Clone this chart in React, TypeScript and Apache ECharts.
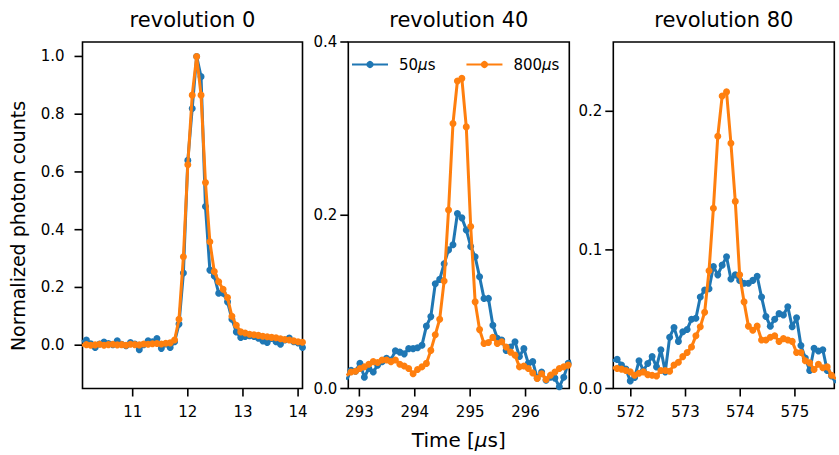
import React, { useEffect, useRef } from "react";
import * as echarts from "echarts";

const FONT = "DejaVu Sans";
const BLUE = "#1f77b4";
const ORANGE = "#ff7f0e";

const TITLES = ["revolution 0", "revolution 40", "revolution 80"];
const SERIES_NAMES = ["50µs", "800µs"];

const T1 = [10.08, 10.16, 10.24, 10.32, 10.4, 10.48, 10.56, 10.64, 10.72, 10.8, 10.88, 10.96, 11.04, 11.12, 11.2, 11.28, 11.36, 11.44, 11.52, 11.6, 11.68, 11.76, 11.84, 11.92, 12.0, 12.08, 12.16, 12.24, 12.32, 12.4, 12.48, 12.56, 12.64, 12.72, 12.8, 12.88, 12.96, 13.04, 13.12, 13.2, 13.28, 13.36, 13.44, 13.52, 13.6, 13.68, 13.76, 13.84, 13.92, 14.0, 14.08];
const B1 = [0.012, 0.018, 0.005, -0.008, 0.004, 0.011, 0.006, 0.002, 0.015, 0.003, -0.002, 0.009, 0.004, -0.016, 0.002, 0.015, 0.012, 0.023, -0.011, 0.004, -0.008, 0.012, 0.073, 0.25, 0.64, 0.82, 1.0, 0.93, 0.48, 0.26, 0.24, 0.18, 0.18, 0.15, 0.09, 0.046, 0.027, 0.03, 0.033, 0.03, 0.024, 0.015, 0.009, 0.023, 0.012, 0.003, 0.018, 0.025, 0.012, 0.008, -0.008];
const O1 = [0.0, 0.002, 0.0, 0.001, 0.003, 0.0, 0.002, 0.003, 0.001, 0.002, 0.0, 0.003, 0.002, 0.001, 0.004, 0.003, 0.005, 0.006, 0.004, 0.007, 0.008, 0.018, 0.09, 0.306, 0.625, 0.866, 1.0, 0.866, 0.563, 0.358, 0.255, 0.22, 0.194, 0.165, 0.1, 0.069, 0.046, 0.042, 0.038, 0.036, 0.034, 0.031, 0.029, 0.027, 0.026, 0.022, 0.02, 0.018, 0.015, 0.012, 0.01];

const T2 = [292.77, 292.85, 292.93, 293.01, 293.09, 293.17, 293.25, 293.33, 293.41, 293.49, 293.57, 293.65, 293.73, 293.81, 293.89, 293.97, 294.05, 294.13, 294.21, 294.29, 294.37, 294.45, 294.53, 294.61, 294.69, 294.77, 294.85, 294.93, 295.01, 295.09, 295.17, 295.25, 295.33, 295.41, 295.49, 295.57, 295.65, 295.73, 295.81, 295.89, 295.97, 296.05, 296.13, 296.21, 296.29, 296.37, 296.45, 296.53, 296.61, 296.69, 296.77, 296.85];
const B2 = [0.01, 0.021, 0.02, 0.029, 0.013, 0.023, 0.019, 0.027, 0.031, 0.035, 0.033, 0.0435, 0.042, 0.04, 0.046, 0.046, 0.047, 0.05, 0.072, 0.083, 0.121, 0.126, 0.144, 0.16, 0.166, 0.202, 0.197, 0.183, 0.164, 0.152, 0.129, 0.104, 0.104, 0.073, 0.058, 0.056, 0.044, 0.048, 0.054, 0.037, 0.046, 0.029, 0.031, 0.012, 0.019, 0.0096, 0.013, 0.012, 0.002, 0.013, 0.029, 0.033];
const O2 = [0.015, 0.019, 0.02, 0.023, 0.025, 0.028, 0.031, 0.03, 0.033, 0.033, 0.031, 0.033, 0.028, 0.026, 0.023, 0.017, 0.022, 0.025, 0.029, 0.044, 0.062, 0.08, 0.124, 0.206, 0.306, 0.355, 0.358, 0.302, 0.187, 0.1, 0.068, 0.052, 0.053, 0.059, 0.052, 0.054, 0.048, 0.042, 0.0385, 0.025, 0.026, 0.023, 0.018, 0.0115, 0.017, 0.0104, 0.0154, 0.019, 0.023, 0.025, 0.027, 0.028];

const T3 = [571.67, 571.75, 571.83, 571.91, 571.99, 572.07, 572.15, 572.23, 572.31, 572.39, 572.47, 572.55, 572.63, 572.71, 572.79, 572.87, 572.95, 573.03, 573.11, 573.19, 573.27, 573.35, 573.43, 573.51, 573.59, 573.67, 573.75, 573.83, 573.91, 573.99, 574.07, 574.15, 574.23, 574.31, 574.39, 574.47, 574.55, 574.63, 574.71, 574.79, 574.87, 574.95, 575.03, 575.11, 575.19, 575.27, 575.35, 575.43, 575.51, 575.59, 575.67, 575.75];
const B3 = [0.02, 0.021, 0.017, 0.014, 0.0055, 0.008, 0.02, 0.013, 0.018, 0.023, 0.0156, 0.028, 0.012, 0.037, 0.044, 0.034, 0.041, 0.0426, 0.05, 0.0507, 0.066, 0.071, 0.072, 0.088, 0.082, 0.089, 0.095, 0.079, 0.082, 0.078, 0.076, 0.076, 0.078, 0.081, 0.066, 0.052, 0.045, 0.05, 0.054, 0.053, 0.059, 0.0445, 0.051, 0.031, 0.022, 0.013, 0.029, 0.027, 0.028, 0.013, 0.009, 0.004];
const O3 = [0.015, 0.0145, 0.014, 0.013, 0.012, 0.0095, 0.011, 0.012, 0.01, 0.0095, 0.009, 0.013, 0.013, 0.0125, 0.017, 0.019, 0.023, 0.026, 0.03, 0.038, 0.0445, 0.055, 0.085, 0.13, 0.182, 0.211, 0.214, 0.177, 0.135, 0.082, 0.0625, 0.045, 0.042, 0.045, 0.035, 0.035, 0.037, 0.038, 0.034, 0.036, 0.035, 0.034, 0.026, 0.026, 0.02, 0.0185, 0.0137, 0.0175, 0.015, 0.0156, 0.0096, 0.007];

const X_TICKS = [[11, 12, 13, 14], [293, 294, 295, 296], [572, 573, 574, 575]];
const Y_TICKS = [[0, 0.2, 0.4, 0.6, 0.8, 1.0], [0, 0.2, 0.4], [0, 0.1, 0.2]];
const X_RANGE = [[10.09, 14.08], [292.8, 296.79], [571.68, 575.72]];
const Y_RANGE = [[-0.15, 1.05], [0, 0.4], [0, 0.25]];

const PANELS = [
  { t: T1, b: B1, o: O1 },
  { t: T2, b: B2, o: O2 },
  { t: T3, b: B3, o: O3 },
];

const GRID_LEFT = [82.5, 348.3, 613.3];
const GRID_W = [220, 221, 221];
const GRID_TOP = 42;
const GRID_H = 346.5;
const Y_LABEL_MARGIN = [18, 11, 11];
const TICK_LEN = 8;
const TICK_W = 1.6;

export default function App() {
  const ref = useRef<HTMLDivElement>(null);
  useEffect(() => {
    document.body.style.margin = "0";
    if (!ref.current) return;
    const chart = echarts.init(ref.current, null, { renderer: "svg" });
    const textBase = { fontFamily: FONT, color: "#000" };
    const grids = GRID_LEFT.map((l, i) => ({
      left: l,
      top: GRID_TOP,
      width: GRID_W[i],
      height: GRID_H,
      show: true,
      borderColor: "#000",
      borderWidth: 1.6,
      backgroundColor: "transparent",
    }));
    const xAxes = X_RANGE.map((r, i) => ({
      type: "value",
      gridIndex: i,
      position: "bottom",
      min: r[0],
      max: r[1],
      axisLine: { show: false, onZero: false },
      splitLine: { show: false },
      axisTick: { show: false },
      axisLabel: { customValues: X_TICKS[i], margin: 16, fontSize: 15, ...textBase },
    }));
    const yAxes = Y_RANGE.map((r, i) => ({
      type: "value",
      gridIndex: i,
      position: "left",
      min: r[0],
      max: r[1],
      axisLine: { show: false, onZero: false },
      splitLine: { show: false },
      axisTick: { show: false },
      axisLabel: {
        customValues: Y_TICKS[i],
        margin: Y_LABEL_MARGIN[i],
        fontSize: 15,
        ...textBase,
        formatter: (v: number) => v.toFixed(1),
      },
    }));
    const series: any[] = [];
    PANELS.forEach((p, i) => {
      [
        { name: SERIES_NAMES[0], vals: p.b, color: BLUE, z: 2 },
        { name: SERIES_NAMES[1], vals: p.o, color: ORANGE, z: 3 },
      ].forEach((s) => {
        series.push({
          type: "line",
          name: s.name,
          xAxisIndex: i,
          yAxisIndex: i,
          data: p.t.map((t, k) => [t, s.vals[k]]),
          symbol: "circle",
          symbolSize: 7,
          showSymbol: true,
          clip: true,
          z: s.z,
          lineStyle: { color: s.color, width: 3 },
          itemStyle: { color: s.color },
          emphasis: { disabled: true },
        });
      });
    });
    const baseGraphics: any[] = [
      ...TITLES.map((t, i) => ({
        type: "text",
        x: GRID_LEFT[i] + GRID_W[i] / 2,
        y: 20,
        style: { text: t, fontSize: 21, fontFamily: FONT, fill: "#000", align: "center", verticalAlign: "middle" },
      })),
      {
        type: "text",
        x: 18,
        y: 226,
        rotation: Math.PI / 2,
        style: { text: "Normalized photon counts", fontSize: 19, fontFamily: FONT, fill: "#000", align: "center", verticalAlign: "middle" },
      },
      {
        type: "text",
        x: 458.8,
        y: 440,
        style: {
          text: "Time [{i|µ}s]",
          fontSize: 20,
          fontFamily: FONT,
          fill: "#000",
          align: "center",
          verticalAlign: "middle",
          rich: { i: { fontStyle: "italic", fontSize: 20, fontFamily: FONT, fill: "#000" } },
        },
      },
    ];
    chart.setOption({
      animation: false,
      backgroundColor: "#fff",
      grid: grids,
      xAxis: xAxes,
      yAxis: yAxes,
      series,
      legend: {
        left: 351,
        top: 57,
        padding: 0,
        itemWidth: 36,
        itemHeight: 9,
        itemGap: 30,
        data: SERIES_NAMES,
        selectedMode: false,
        formatter: (name: string) => name.replace("µ", "{i|µ}"),
        textStyle: {
          fontSize: 15,
          fontFamily: FONT,
          color: "#000",
          padding: [0, 0, 0, 6],
          rich: { i: { fontStyle: "italic", fontSize: 15, fontFamily: FONT, color: "#000" } },
        },
      },
      graphic: baseGraphics,
    });

    // Tick marks placed through the axes' own scales (convertToPixel).
    const tickGraphics: any[] = [];
    for (let i = 0; i < 3; i++) {
      const yBottom = chart.convertToPixel({ yAxisIndex: i } as any, Y_RANGE[i][0]) as number;
      const xLeft = chart.convertToPixel({ xAxisIndex: i } as any, X_RANGE[i][0]) as number;
      X_TICKS[i].forEach((v) => {
        const px = chart.convertToPixel({ xAxisIndex: i } as any, v) as number;
        tickGraphics.push({
          type: "rect",
          silent: true,
          shape: { x: px - TICK_W / 2, y: yBottom, width: TICK_W, height: TICK_LEN },
          style: { fill: "#000" },
        });
      });
      Y_TICKS[i].forEach((v) => {
        const py = chart.convertToPixel({ yAxisIndex: i } as any, v) as number;
        tickGraphics.push({
          type: "rect",
          silent: true,
          shape: { x: xLeft - TICK_LEN, y: py - TICK_W / 2, width: TICK_LEN, height: TICK_W },
          style: { fill: "#000" },
        });
      });
    }
    chart.setOption({ graphic: [...baseGraphics, ...tickGraphics] });
    return () => chart.dispose();
  }, []);
  return <div ref={ref} style={{ width: 839, height: 455 }} />;
}
